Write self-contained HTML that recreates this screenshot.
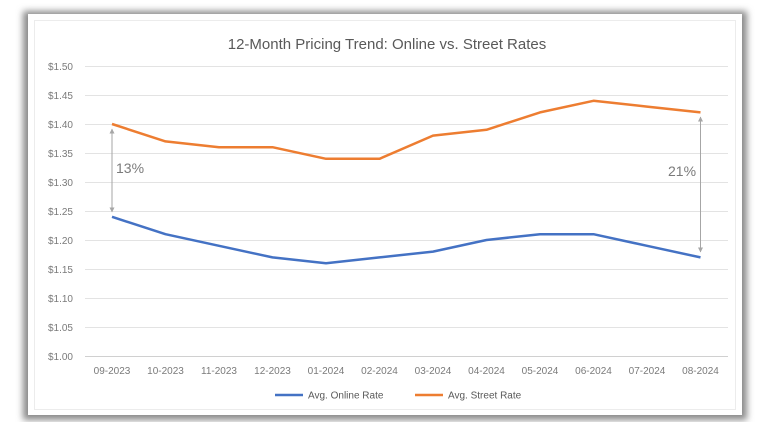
<!DOCTYPE html>
<html><head><style>
body{margin:0;width:760px;height:422px;background:#fff;overflow:hidden;font-family:"Liberation Sans",sans-serif}
</style></head><body>
<svg width="760" height="422" xmlns="http://www.w3.org/2000/svg">
<defs><filter id="s" x="-5%" y="-5%" width="110%" height="110%"><feGaussianBlur stdDeviation="3.5"/></filter>
<marker id="a" viewBox="0 0 10 10" refX="9" refY="5" markerWidth="5" markerHeight="5" orient="auto-start-reverse"><path d="M0,0L10,5L0,10z" fill="#a6a6a6"/></marker></defs>
<rect x="23" y="11" width="724" height="409" fill="#8a8a8a" filter="url(#s)"/>
<rect x="28" y="14" width="714" height="401" fill="#fff"/>
<rect x="34.5" y="20.5" width="701" height="389" fill="none" stroke="#ececec"/>
<text x="387" y="49" text-anchor="middle" font-size="15" fill="#595959">12-Month Pricing Trend: Online vs. Street Rates</text>
<g stroke="#e3e3e3" stroke-width="1">
<line x1="85" x2="728" y1="66.5" y2="66.5"/><line x1="85" x2="728" y1="95.5" y2="95.5"/><line x1="85" x2="728" y1="124.5" y2="124.5"/><line x1="85" x2="728" y1="153.5" y2="153.5"/><line x1="85" x2="728" y1="182.5" y2="182.5"/><line x1="85" x2="728" y1="211.5" y2="211.5"/><line x1="85" x2="728" y1="240.5" y2="240.5"/><line x1="85" x2="728" y1="269.5" y2="269.5"/><line x1="85" x2="728" y1="298.5" y2="298.5"/><line x1="85" x2="728" y1="327.5" y2="327.5"/><line x1="85" x2="728" y1="356.5" y2="356.5" stroke="#d0d0d0"/>
</g>
<g font-size="10" fill="#7a7a7a" text-anchor="end">
<text x="73" y="70">$1.50</text><text x="73" y="99">$1.45</text><text x="73" y="128">$1.40</text><text x="73" y="157">$1.35</text><text x="73" y="186">$1.30</text><text x="73" y="215">$1.25</text><text x="73" y="244">$1.20</text><text x="73" y="273">$1.15</text><text x="73" y="302">$1.10</text><text x="73" y="331">$1.05</text><text x="73" y="360">$1.00</text>
</g>
<g font-size="10" fill="#7a7a7a" text-anchor="middle">
<text x="112" y="374">09-2023</text><text x="165.5" y="374">10-2023</text><text x="219" y="374">11-2023</text><text x="272.5" y="374">12-2023</text><text x="326" y="374">01-2024</text><text x="379.5" y="374">02-2024</text><text x="433" y="374">03-2024</text><text x="486.5" y="374">04-2024</text><text x="540" y="374">05-2024</text><text x="593.5" y="374">06-2024</text><text x="647" y="374">07-2024</text><text x="700.5" y="374">08-2024</text>
</g>
<polyline fill="none" stroke="#ed7d31" stroke-width="2.5" stroke-linejoin="round" points="112,124 165.5,141.4 219,147.2 272.5,147.2 326,158.8 379.5,158.8 433,135.6 486.5,129.8 540,112.4 593.5,100.8 647,106.6 700.5,112.4"/>
<polyline fill="none" stroke="#4472c4" stroke-width="2.5" stroke-linejoin="round" points="112,216.8 165.5,234.2 219,245.8 272.5,257.4 326,263.2 379.5,257.4 433,251.6 486.5,240 540,234.2 593.5,234.2 647,245.8 700.5,257.4"/>
<line x1="112" y1="129" x2="112" y2="212" stroke="#a6a6a6" stroke-width="1" marker-start="url(#a)" marker-end="url(#a)"/>
<line x1="700.5" y1="117" x2="700.5" y2="252" stroke="#a6a6a6" stroke-width="1" marker-start="url(#a)" marker-end="url(#a)"/>
<text x="116" y="173" font-size="14" fill="#7a7a7a">13%</text>
<text x="668" y="176" font-size="14" fill="#7a7a7a">21%</text>
<line x1="275" x2="303" y1="395" y2="395" stroke="#4472c4" stroke-width="2.5"/>
<text x="308" y="398.5" font-size="10" fill="#595959">Avg. Online Rate</text>
<line x1="415" x2="443" y1="395" y2="395" stroke="#ed7d31" stroke-width="2.5"/>
<text x="448" y="398.5" font-size="10" fill="#595959">Avg. Street Rate</text>
</svg>
</body></html>
